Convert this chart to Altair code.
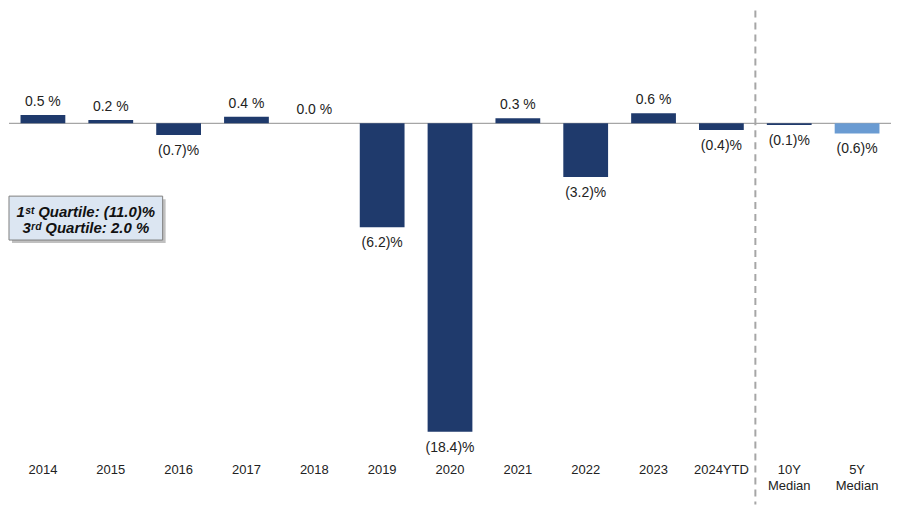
import altair as alt
import pandas as pd

categories = ["2014", "2015", "2016", "2017", "2018", "2019", "2020", "2021",
              "2022", "2023", "2024YTD", "10Y Median", "5Y Median"]
values = [0.5, 0.2, -0.7, 0.4, 0.0, -6.2, -18.4, 0.3, -3.2, 0.6, -0.4, -0.1, -0.6]
bar_colors = ["#1F3A6C"] * 12 + ["#6A9BD2"]
quartile_lines = ["1ˢᵗ Quartile: (11.0)%", "3ʳᵈ Quartile: 2.0 %"]


def fmt(v):
    return f"({abs(v):.1f})%" if v < 0 else f"{v:.1f} %"


df = pd.DataFrame({
    "cat": categories,
    "val": values,
    "color": bar_colors,
    "label": [fmt(v) for v in values],
})
df_pos = df[df["val"] >= 0].reset_index(drop=True)
df_neg = df[df["val"] < 0].reset_index(drop=True)

FONT = "Liberation Sans"

x_axis = alt.Axis(orient="bottom", domain=False, ticks=False, labelAngle=0,
                  labelFont=FONT, labelFontSize=13, labelColor="#222222",
                  labelPadding=9, labelLineHeight=16,
                  labelExpr="split(datum.label, ' ')")
x_scale = alt.Scale(paddingInner=0.34, paddingOuter=0.17)
x = alt.X("cat:N", sort=categories, title=None, scale=x_scale, axis=x_axis)
y_axis = alt.Axis(labels=False, ticks=False, domain=False, grid=False, title=None)
y = alt.Y("val:Q", title=None,
          scale=alt.Scale(domain=[-19.76, 6.85], nice=False),
          axis=y_axis)

bars = alt.Chart(df).mark_bar().encode(x=x, y=y,
                                       color=alt.Color("color:N", scale=None))

pos_labels = alt.Chart(df_pos).mark_text(
    baseline="bottom", dy=-6, font=FONT, fontSize=14, color="#222222").encode(
    x=x, y=y, text="label:N")
neg_labels = alt.Chart(df_neg).mark_text(
    baseline="top", dy=9, font=FONT, fontSize=14, color="#222222").encode(
    x=x, y=y, text="label:N")

zero = alt.Chart(pd.DataFrame({"val": [0.0]})).mark_rule(
    color="#A6A6A6", strokeWidth=1.2).encode(y=y)

sep = alt.Chart(pd.DataFrame({"cat": ["10Y Median"]})).mark_rule(
    color="#A6A6A6", strokeWidth=2, strokeDash=[7, 5], xOffset=-11.5).encode(
    x=alt.X("cat:N", sort=categories, title=None, scale=x_scale, axis=x_axis,
            bandPosition=0),
    y=alt.value(2), y2=alt.value(497))

ann = pd.DataFrame({"t": ["\n".join(quartile_lines)]})
shadow = alt.Chart(ann).mark_rect(fill="#8C8C8C", opacity=0.55).encode(
    x=alt.value(3), x2=alt.value(157), y=alt.value(191), y2=alt.value(235))
box = alt.Chart(ann).mark_rect(fill="#DCE6F2", stroke="#7F7F7F", strokeWidth=1).encode(
    x=alt.value(0), x2=alt.value(154), y=alt.value(188), y2=alt.value(232))
qtext = alt.Chart(ann).mark_text(
    font=FONT, fontSize=15, fontWeight="bold", fontStyle="italic",
    color="#111111", lineBreak="\n", lineHeight=16, baseline="middle").encode(
    x=alt.value(77), y=alt.value(204), text="t:N")

chart = alt.layer(zero, bars, sep, pos_labels, neg_labels, shadow, box, qtext).properties(
    width=884, height=447, padding=0).configure_view(stroke=None)

chart.save("out.html", embed_options={"renderer": "svg", "actions": False})
